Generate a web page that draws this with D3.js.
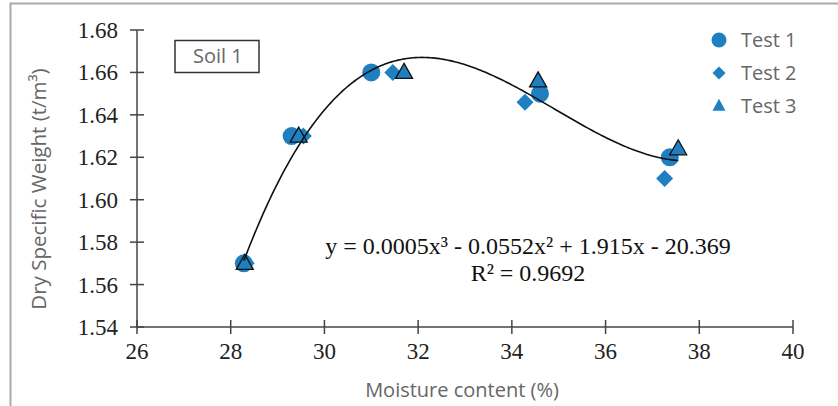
<!DOCTYPE html>
<html>
<head>
<meta charset="utf-8">
<script src="https://cdn.jsdelivr.net/npm/d3@7"></script>
<style>
  body { margin: 0; background: #fff; }
  .tick-label { font-family: "Liberation Serif", serif; font-size: 23px; fill: #222; }
  .title { font-family: "Open Sans", sans-serif; font-size: 20px; fill: #666; }
  .eq { font-family: "Liberation Serif", serif; font-size: 24px; fill: #111; }
</style>
</head>
<body>
<svg id="chart" width="838" height="406"></svg>
<script>
// data
const test1X = [28.28, 29.3, 31.0, 34.6, 37.37];
const test1Y = [1.57, 1.63, 1.66, 1.65, 1.62];
const test2X = [28.33, 29.55, 31.46, 34.28, 37.26];
const test2Y = [1.57, 1.63, 1.66, 1.646, 1.61];
const test3X = [28.3, 29.45, 31.7, 34.56, 37.55];
const test3Y = [1.57, 1.63, 1.66, 1.656, 1.624];
const xTicks = [26, 28, 30, 32, 34, 36, 38, 40];
const yTicks = [1.54, 1.56, 1.58, 1.60, 1.62, 1.64, 1.66, 1.68];
const seriesNames = ['Test 1', 'Test 2', 'Test 3'];

const blue = '#1f7fc1';
const axisColor = '#444';

const svg = d3.select('#chart');

const x = d3.scaleLinear().domain([26, 40]).range([137, 793]);
const y = d3.scaleLinear().domain([1.54, 1.68]).range([327, 30]);

// frame (only top + left edges visible)
svg.append('path')
  .attr('d', 'M10.5,406 V3.5 H838')
  .attr('fill', 'none')
  .attr('stroke', '#aaa')
  .attr('stroke-width', 2);

// axes
const gAxis = svg.append('g');
gAxis.append('line')
  .attr('x1', x(26)).attr('x2', x(26))
  .attr('y1', y(1.54)).attr('y2', y(1.68))
  .attr('stroke', axisColor).attr('stroke-width', 1.5);
gAxis.append('line')
  .attr('x1', x(26)).attr('x2', x(40))
  .attr('y1', y(1.54)).attr('y2', y(1.54))
  .attr('stroke', axisColor).attr('stroke-width', 1.5);

gAxis.selectAll('.ytick')
  .data(yTicks)
  .enter()
  .append('line')
  .attr('x1', x(26) - 7).attr('x2', x(26) + 7)
  .attr('y1', d => y(d)).attr('y2', d => y(d))
  .attr('stroke', axisColor).attr('stroke-width', 1.5);

gAxis.selectAll('.xtick')
  .data(xTicks)
  .enter()
  .append('line')
  .attr('x1', d => x(d)).attr('x2', d => x(d))
  .attr('y1', y(1.54) - 7).attr('y2', y(1.54) + 7)
  .attr('stroke', axisColor).attr('stroke-width', 1.5);

gAxis.selectAll('.ylab')
  .data(yTicks)
  .enter()
  .append('text')
  .attr('class', 'tick-label')
  .attr('x', 118)
  .attr('y', d => y(d) + 8)
  .attr('text-anchor', 'end')
  .text(d => d.toFixed(2));

gAxis.selectAll('.xlab')
  .data(xTicks)
  .enter()
  .append('text')
  .attr('class', 'tick-label')
  .attr('x', d => x(d))
  .attr('y', 359)
  .attr('text-anchor', 'middle')
  .text(d => d);

// axis titles
svg.append('text')
  .attr('class', 'title')
  .attr('transform', 'translate(46,189) rotate(-90)')
  .attr('text-anchor', 'middle')
  .style('font-size', '20.5px')
  .text('Dry Specific Weight (t/m³)');

svg.append('text')
  .attr('class', 'title')
  .attr('x', 462)
  .attr('y', 397)
  .attr('text-anchor', 'middle')
  .text('Moisture content (%)');

// marker shapes
function diamond(r) {
  const p = d3.path();
  p.moveTo(0, -r); p.lineTo(r, 0); p.lineTo(0, r); p.lineTo(-r, 0); p.closePath();
  return p.toString();
}
function triangle(w, h) {
  const p = d3.path();
  p.moveTo(0, -h * 0.6); p.lineTo(w / 2, h * 0.4); p.lineTo(-w / 2, h * 0.4); p.closePath();
  return p.toString();
}

const zip = (xs, ys) => xs.map((v, i) => [v, ys[i]]);

const gPts = svg.append('g');
gPts.selectAll('.c')
  .data(zip(test1X, test1Y))
  .enter()
  .append('circle')
  .attr('cx', d => x(d[0])).attr('cy', d => y(d[1]))
  .attr('r', 9)
  .attr('fill', blue);

gPts.selectAll('.d')
  .data(zip(test2X, test2Y))
  .enter()
  .append('path')
  .attr('d', diamond(8.5))
  .attr('transform', d => `translate(${x(d[0])},${y(d[1])})`)
  .attr('fill', blue);

gPts.selectAll('.t')
  .data(zip(test3X, test3Y))
  .enter()
  .append('path')
  .attr('d', triangle(17, 15))
  .attr('transform', d => `translate(${x(d[0])},${y(d[1])})`)
  .attr('fill', blue)
  .attr('stroke', '#111')
  .attr('stroke-width', 1.3);

// cubic least-squares trendline over all points
const allPts = zip(test1X, test1Y).concat(zip(test2X, test2Y), zip(test3X, test3Y));
function polyFit(pts, deg) {
  const n = deg + 1;
  const A = d3.range(n).map(() => d3.range(n + 1).map(() => 0));
  pts.forEach(([px, py]) => {
    for (let i = 0; i < n; i++) {
      for (let j = 0; j < n; j++) A[i][j] += Math.pow(px, i + j);
      A[i][n] += py * Math.pow(px, i);
    }
  });
  for (let i = 0; i < n; i++) {
    let m = i;
    for (let k = i + 1; k < n; k++) if (Math.abs(A[k][i]) > Math.abs(A[m][i])) m = k;
    [A[i], A[m]] = [A[m], A[i]];
    for (let k = i + 1; k < n; k++) {
      const f = A[k][i] / A[i][i];
      for (let j = i; j <= n; j++) A[k][j] -= f * A[i][j];
    }
  }
  const c = new Array(n).fill(0);
  for (let i = n - 1; i >= 0; i--) {
    let s = A[i][n];
    for (let j = i + 1; j < n; j++) s -= A[i][j] * c[j];
    c[i] = s / A[i][i];
  }
  return c;
}
const coef = polyFit(allPts.map(d => [d[0] - 32, d[1]]), 3);
const evalFit = xv => coef.reduce((s, c, i) => s + c * Math.pow(xv - 32, i), 0);
const xMin = d3.min(allPts, d => d[0]);
const xMax = d3.max(allPts, d => d[0]);
const fitPts = d3.range(0, 201).map(i => {
  const xv = xMin + (xMax - xMin) * i / 200;
  return [xv, evalFit(xv)];
});
svg.append('path')
  .datum(fitPts)
  .attr('d', d3.line().x(d => x(d[0])).y(d => y(d[1])))
  .attr('fill', 'none')
  .attr('stroke', '#111')
  .attr('stroke-width', 1.6);

// equation
svg.append('text')
  .attr('class', 'eq')
  .attr('x', 528).attr('y', 254)
  .attr('text-anchor', 'middle')
  .text('y = 0.0005x³ - 0.0552x² + 1.915x - 20.369');
svg.append('text')
  .attr('class', 'eq')
  .attr('x', 528).attr('y', 281)
  .attr('text-anchor', 'middle')
  .text('R² = 0.9692');

// soil label box
svg.append('rect')
  .attr('x', 175).attr('y', 40.5)
  .attr('width', 84).attr('height', 32)
  .attr('fill', '#fff')
  .attr('stroke', '#333')
  .attr('stroke-width', 1.5);
svg.append('text')
  .attr('class', 'title')
  .attr('x', 193).attr('y', 63)
  .text('Soil 1');

// legend
const legend = svg.append('g').attr('transform', 'translate(719,40)');
const rows = legend.selectAll('.row')
  .data(seriesNames)
  .enter()
  .append('g')
  .attr('transform', (d, i) => `translate(0,${i * 33})`);
rows.each(function (d, i) {
  const g = d3.select(this);
  if (i === 0) g.append('circle').attr('r', 7.5).attr('fill', blue);
  if (i === 1) g.append('path').attr('d', diamond(6.5)).attr('fill', blue);
  if (i === 2) g.append('path').attr('d', triangle(13, 12)).attr('fill', blue);
});
rows.append('text')
  .attr('class', 'title')
  .attr('x', 22)
  .attr('y', 7)
  .text(d => d);
</script>
</body>
</html>
